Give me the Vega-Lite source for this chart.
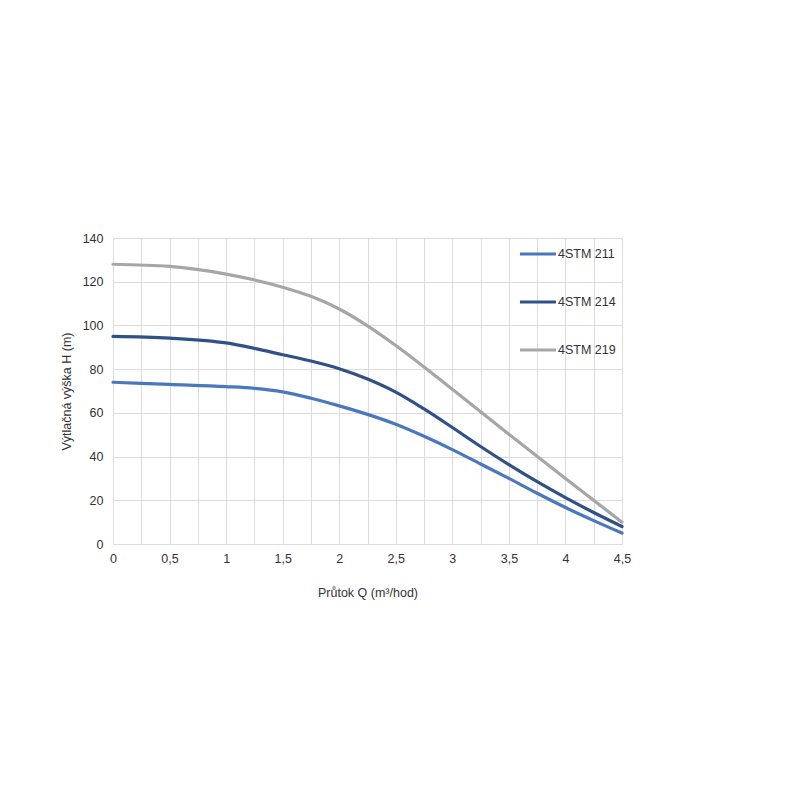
{
  "$schema": "https://vega.github.io/schema/vega-lite/v6.json",
  "width": 509,
  "height": 306,
  "autosize": "none",
  "padding": {"left": 113, "top": 238, "right": 178, "bottom": 256},
  "background": "white",
  "config": {
    "font": "Liberation Sans",
    "view": {"stroke": null},
    "axis": {"labelFont": "Liberation Sans", "titleFont": "Liberation Sans", "labelFontSize": 12.5, "titleFontSize": 12.5, "labelColor": "#333333", "titleColor": "#333333", "titleFontWeight": "normal", "gridColor": "#dcdcdc", "gridWidth": 1, "domain": false, "ticks": false}
  },
  "data": {"values": [
    {"q": 0, "h": 74, "s": "4STM 211"},
    {"q": 0.5, "h": 73, "s": "4STM 211"},
    {"q": 1, "h": 72, "s": "4STM 211"},
    {"q": 1.25, "h": 71.2, "s": "4STM 211"},
    {"q": 1.5, "h": 69.6, "s": "4STM 211"},
    {"q": 1.75, "h": 66.7, "s": "4STM 211"},
    {"q": 2, "h": 63.2, "s": "4STM 211"},
    {"q": 2.25, "h": 59.3, "s": "4STM 211"},
    {"q": 2.5, "h": 54.8, "s": "4STM 211"},
    {"q": 2.75, "h": 49.3, "s": "4STM 211"},
    {"q": 3, "h": 43.2, "s": "4STM 211"},
    {"q": 3.25, "h": 36.6, "s": "4STM 211"},
    {"q": 3.5, "h": 30, "s": "4STM 211"},
    {"q": 3.75, "h": 23.2, "s": "4STM 211"},
    {"q": 4, "h": 16.7, "s": "4STM 211"},
    {"q": 4.25, "h": 10.7, "s": "4STM 211"},
    {"q": 4.5, "h": 5, "s": "4STM 211"},
    {"q": 0, "h": 95, "s": "4STM 214"},
    {"q": 0.5, "h": 94.2, "s": "4STM 214"},
    {"q": 1, "h": 92, "s": "4STM 214"},
    {"q": 1.25, "h": 89.5, "s": "4STM 214"},
    {"q": 1.5, "h": 86.6, "s": "4STM 214"},
    {"q": 1.75, "h": 83.7, "s": "4STM 214"},
    {"q": 2, "h": 80.2, "s": "4STM 214"},
    {"q": 2.25, "h": 75.5, "s": "4STM 214"},
    {"q": 2.5, "h": 69.5, "s": "4STM 214"},
    {"q": 2.75, "h": 61.8, "s": "4STM 214"},
    {"q": 3, "h": 53.3, "s": "4STM 214"},
    {"q": 3.25, "h": 44.6, "s": "4STM 214"},
    {"q": 3.5, "h": 36.3, "s": "4STM 214"},
    {"q": 3.75, "h": 28.5, "s": "4STM 214"},
    {"q": 4, "h": 21.2, "s": "4STM 214"},
    {"q": 4.25, "h": 14.4, "s": "4STM 214"},
    {"q": 4.5, "h": 8, "s": "4STM 214"},
    {"q": 0, "h": 128, "s": "4STM 219"},
    {"q": 0.5, "h": 127, "s": "4STM 219"},
    {"q": 1, "h": 123.5, "s": "4STM 219"},
    {"q": 1.5, "h": 117.5, "s": "4STM 219"},
    {"q": 1.75, "h": 113.3, "s": "4STM 219"},
    {"q": 2, "h": 107.5, "s": "4STM 219"},
    {"q": 2.25, "h": 99.8, "s": "4STM 219"},
    {"q": 2.5, "h": 90.8, "s": "4STM 219"},
    {"q": 2.75, "h": 81, "s": "4STM 219"},
    {"q": 3, "h": 70.8, "s": "4STM 219"},
    {"q": 3.5, "h": 50.2, "s": "4STM 219"},
    {"q": 4, "h": 30, "s": "4STM 219"},
    {"q": 4.5, "h": 10, "s": "4STM 219"}
  ]},
  "mark": {"type": "line", "interpolate": "monotone", "strokeWidth": 3.2, "strokeCap": "round"},
  "encoding": {
    "x": {
      "field": "q", "type": "quantitative",
      "scale": {"domain": [0, 4.5], "nice": false},
      "axis": {
        "title": "Průtok Q (m³/hod)",
        "values": [0, 0.25, 0.5, 0.75, 1, 1.25, 1.5, 1.75, 2, 2.25, 2.5, 2.75, 3, 3.25, 3.5, 3.75, 4, 4.25, 4.5],
        "labelExpr": "floor(datum.value * 2) == datum.value * 2 ? replace(format(datum.value, '~g'), '.', ',') : ''",
        "labelPadding": 8,
        "titlePadding": 22,
        "labelOverlap": false,
        "labelFlush": false
      }
    },
    "y": {
      "field": "h", "type": "quantitative",
      "scale": {"domain": [0, 140], "nice": false},
      "axis": {
        "title": "Výtlačná výška H (m)",
        "values": [0, 20, 40, 60, 80, 100, 120, 140],
        "labelPadding": 10,
        "titlePadding": 9
      }
    },
    "color": {
      "field": "s", "type": "nominal",
      "scale": {"domain": ["4STM 211", "4STM 214", "4STM 219"], "range": ["#4a78c0", "#2f5188", "#a6a6a6"]},
      "legend": {
        "title": null,
        "orient": "none",
        "legendX": 405,
        "legendY": -4,
        "symbolType": "stroke",
        "symbolSize": 1300,
        "symbolStrokeWidth": 3.2,
        "labelFont": "Liberation Sans",
        "labelFontSize": 12.5,
        "labelColor": "#333333",
        "labelOffset": 0,
        "rowPadding": 21
      }
    }
  }
}
